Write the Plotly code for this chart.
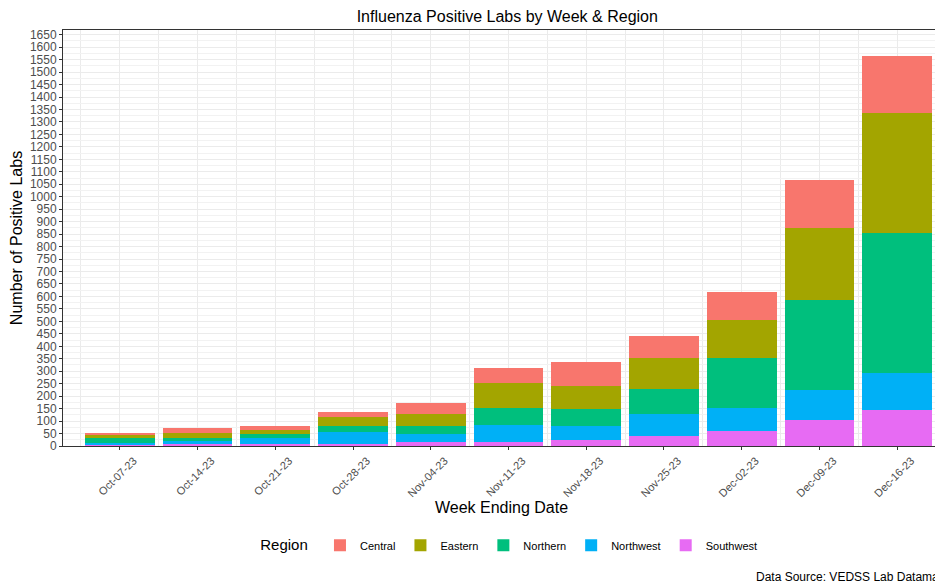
import plotly.graph_objects as go

weeks = ["Oct-07-23", "Oct-14-23", "Oct-21-23", "Oct-28-23", "Nov-04-23", "Nov-11-23",
         "Nov-18-23", "Nov-25-23", "Dec-02-23", "Dec-09-23", "Dec-16-23"]

southwest = [6, 8, 9, 10, 16, 16, 23, 42, 62, 105, 145]
northwest = [6, 12, 22, 46, 34, 67, 57, 87, 90, 118, 149]
northern = [19, 12, 16, 24, 31, 71, 69, 98, 201, 364, 559]
eastern = [16, 22, 18, 38, 48, 100, 90, 128, 151, 286, 482]
central = [3, 20, 16, 19, 43, 58, 99, 86, 113, 195, 230]

regions = ["Southwest", "Northwest", "Northern", "Eastern", "Central"]
series = [southwest, northwest, northern, eastern, central]
colors = {"Central": "#F8766D", "Eastern": "#A3A500", "Northern": "#00BF7D",
          "Northwest": "#00B0F6", "Southwest": "#E76BF3"}

x_idx = list(range(len(weeks)))

fig = go.Figure()
for name, vals in zip(regions, series):
    fig.add_trace(go.Bar(x=x_idx, y=vals, name=name, width=0.9,
                         marker=dict(color=colors[name], line=dict(width=0))))

font_family = "Liberation Sans, Arial, sans-serif"
fig.update_layout(
    width=935, height=576,
    barmode="stack",
    bargap=0.1,
    plot_bgcolor="white", paper_bgcolor="white",
    margin=dict(l=55, r=3, t=22, b=138),
    font=dict(family=font_family, color="black"),
    title=dict(text="Influenza Positive Labs by Week & Region", x=0.534, xanchor="center",
               y=0.986, yanchor="middle", font=dict(size=16, color="black")),
    legend=dict(orientation="h", x=0.51, xanchor="center", y=-0.24, yanchor="middle",
                traceorder="reversed", font=dict(size=11, color="black"),
                title=dict(text="Region ", font=dict(size=15, color="black"), side="left"),
                itemwidth=30),
    showlegend=True,
)
fig.update_xaxes(
    type="linear", range=[-0.73, 10.55],
    tickmode="array", tickvals=x_idx, ticktext=weeks, tickangle=-45,
    tickfont=dict(size=11, color="#4D4D4D"), ticklabelshift=14,
    ticks="outside", ticklen=3, tickcolor="#333333",
    showgrid=True, gridcolor="#EBEBEB", gridwidth=1,
    minor=dict(tickvals=[i - 0.5 for i in range(len(weeks) + 1)], showgrid=True,
               gridcolor="#EBEBEB", gridwidth=1, ticks=""),
    showline=True, linecolor="#333333", linewidth=1, mirror=True,
    zeroline=False,
    title=dict(text="Week Ending Date", font=dict(size=16, color="black"), standoff=3),
)
fig.update_yaxes(
    range=[0, 1669], tick0=0, dtick=50,
    tickfont=dict(size=12, color="#4D4D4D"),
    ticks="outside", ticklen=3, tickcolor="#333333",
    showgrid=True, gridcolor="#EBEBEB", gridwidth=1,
    minor=dict(dtick=25, showgrid=True, gridcolor="#F2F2F2", gridwidth=0.6),
    showline=True, linecolor="#333333", linewidth=1, mirror=True,
    zeroline=False,
    title=dict(text="Number of Positive Labs", font=dict(size=16, color="black"), standoff=4),
)
fig.add_annotation(text="Data Source: VEDSS Lab Datamart", xref="paper", yref="paper",
                   x=0.788, y=-0.315, xanchor="left", yanchor="middle", showarrow=False,
                   font=dict(size=12, color="black"))

fig.write_html("out.html")
